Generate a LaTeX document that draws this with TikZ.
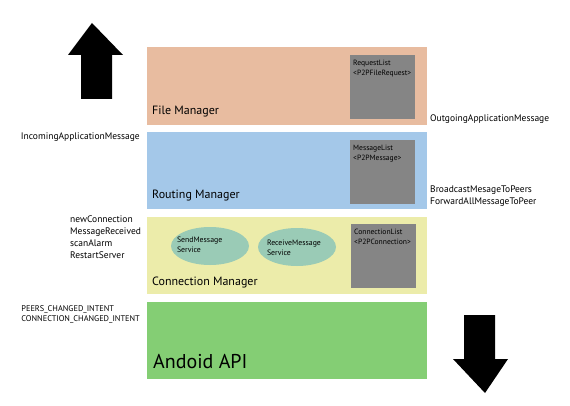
\documentclass[tikz,border=0pt]{standalone}
\usepackage{fontspec}
\setmainfont{PT Sans}
\usepackage{xcolor}
\usetikzlibrary{shapes.geometric,positioning,calc}

\definecolor{filecol}{RGB}{232,188,160}
\definecolor{routecol}{RGB}{164,200,233}
\definecolor{conncol}{RGB}{236,236,170}
\definecolor{apicol}{RGB}{132,206,116}
\definecolor{listgray}{RGB}{133,133,133}
\definecolor{svccol}{RGB}{154,203,182}

\begin{document}
\begin{tikzpicture}[x=1pt,y=-1pt,
    listbox/.style={fill=listgray, minimum width=65pt, minimum height=64pt, inner sep=0pt, anchor=north west},
    listtext/.style={anchor=north west, align=left, inner sep=0pt, font=\fontsize{7.6}{9.8}\selectfont},
    svc/.style={ellipse, fill=svccol, minimum width=78pt, minimum height=38pt, inner sep=0pt},
    svctext/.style={anchor=west, align=left, inner sep=0pt, font=\fontsize{7.8}{10}\selectfont},
    title/.style={anchor=base west, inner sep=0pt, font=\fontsize{12}{14}\selectfont},
    event/.style={align=left, inner sep=0pt, font=\fontsize{9.5}{11.7}\selectfont}]
    \useasboundingbox (0,0) rectangle (570,406);

    % File Manager
    \fill[filecol] (147,47) rectangle (427,125);
    \node[title] (filet) at (152,115) {File Manager};
    \node[listbox] (reqlist) at (350,55) {};
    \node[listtext] (reqt) at (353,60) {RequestList\\<P2PFileRequest>};

    % Routing Manager
    \fill[routecol] (147,132) rectangle (427,209);
    \node[title] (routet) at (152,199) {Routing Manager};
    \node[listbox] (msglist) at (350,140) {};
    \node[listtext] (msgt) at (353,145) {MessageList\\<P2PMessage>};

    % Connection Manager
    \fill[conncol] (147,217) rectangle (427,294);
    \node[title] (connt) at (152,285) {Connection Manager};
    \node[listbox] (connlist) at (351,224) {};
    \node[listtext] (connlt) at (354,229) {ConnectionList\\<P2PConnection>};
    \node[svc] (send) at (210,246) {};
    \node[svctext] (sendt) at ($(send.west)+(6,-1)$) {SendMessage\\Service};
    \node[svc] (recv) at (297,247) {};
    \node[svctext] (recvt) at ($(recv.west)+(9,1)$) {ReceiveMessage\\Service};

    % Android API
    \fill[apicol] (147,302) rectangle (427,379);
    \node[anchor=base west, inner sep=0pt, font=\fontsize{20}{23}\selectfont] (apit) at (153,368) {Andoid API};

    % messages in and out
    \node[event, anchor=base east] (incoming) at (140,140) {IncomingApplicationMessage};
    \node[event, anchor=base west] (outgoing) at (430,122) {OutgoingApplicationMessage};
    \node[event, anchor=north west] (routing) at (430,186) {BroadcastMesageToPeers\\ForwardAllMessageToPeer};
    \node[event, anchor=north west] (conn) at (70,216) {newConnection\\MessageReceived\\scanAlarm\\RestartServer};
    \node[event, anchor=north east, font=\fontsize{8.3}{10}\selectfont] (intents) at (140,305) {PEERS\_CHANGED\_INTENT\\CONNECTION\_CHANGED\_INTENT};

    % big arrows
    \fill (92,23) -- (123,55) -- (112,55) -- (112,99) -- (81,99) -- (81,55) -- (68,55) -- cycle;
    \fill (485,393) -- (508,359) -- (495,359) -- (495,315) -- (464,315) -- (464,359) -- (453,359) -- cycle;
\end{tikzpicture}
\end{document}
